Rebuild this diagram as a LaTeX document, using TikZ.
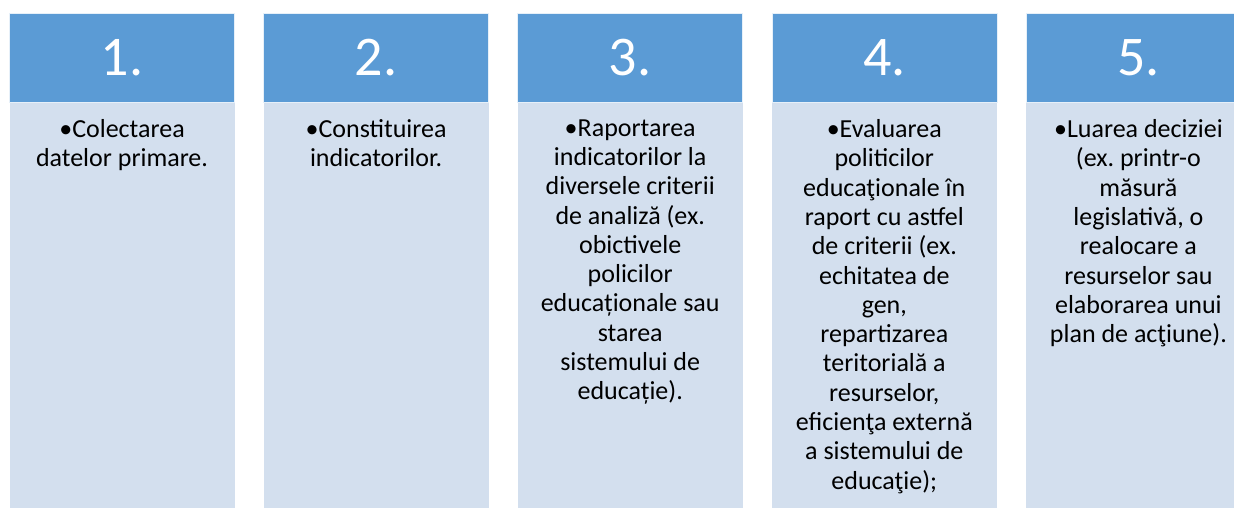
\documentclass[tikz,border=0pt]{standalone}
\usepackage{fontspec}
\setmainfont{Carlito}
\usetikzlibrary{positioning}
\definecolor{headblue}{HTML}{5B9BD5}
\definecolor{bodyblue}{HTML}{D3DFEE}
\frenchspacing
\begin{document}
\begin{tikzpicture}[
  x=1pt, y=-1pt,
  head/.style={rectangle, fill=headblue, draw=white!85!headblue, line width=0.6pt, minimum width=225pt, minimum height=89pt, inner sep=0pt, text=white, font=\fontsize{56}{60}\selectfont},
  body/.style={rectangle, fill=bodyblue, minimum width=225pt, minimum height=405pt, inner sep=0pt, anchor=north},
  txt/.style={align=center, inner sep=0pt, anchor=north, font=\fontsize{26}{29.3}\selectfont},
  node distance=28.5pt
]
\useasboundingbox (0,0) rectangle (1234,507);
\node[head] (h1) at (122,57.5) {1.};
\node[head, right=of h1] (h2) {2.};
\node[head, right=of h2] (h3) {3.};
\node[head, right=of h3] (h4) {4.};
\node[head, right=of h4] (h5) {5.};

\node[body] (b1) at (h1.south) {};
\node[body] (b2) at (h2.south) {};
\node[body] (b3) at (h3.south) {};
\node[body] (b4) at (h4.south) {};
\node[body] (b5) at (h5.south) {};

\node[txt] (t1) at ([yshift=-17pt]b1.north) {•Colectarea\\datelor primare.};
\node[txt] (t2) at ([yshift=-17pt]b2.north) {•Constituirea\\indicatorilor.};
\node[txt] (t3) at ([yshift=-17pt]b3.north) {•Raportarea\\indicatorilor la\\diversele criterii\\de analiză (ex.\\obictivele\\policilor\\educaționale sau\\starea\\sistemului de\\educație).};
\node[txt] (t4) at ([yshift=-17pt]b4.north) {•Evaluarea\\politicilor\\educaţionale în\\raport cu astfel\\de criterii (ex.\\echitatea de\\gen,\\repartizarea\\teritorială a\\resurselor,\\eficienţa externă\\a sistemului de\\educaţie);};
\node[txt] (t5) at ([yshift=-17pt]b5.north) {•Luarea deciziei\\(ex. printr-o\\măsură\\legislativă, o\\realocare a\\resurselor sau\\elaborarea unui\\plan de acţiune).};
\end{tikzpicture}
\end{document}
